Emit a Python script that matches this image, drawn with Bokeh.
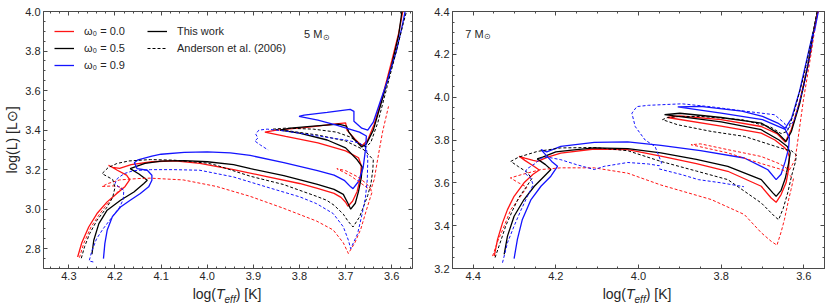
from bokeh.plotting import figure
from bokeh.models import (Range1d, SingleIntervalTicker, LinearAxis, PrintfTickFormatter,
                          Legend, LegendItem, Label, Div)
from bokeh.layouts import row, column
from bokeh.embed import file_html
from bokeh.resources import INLINE

FONT = "Liberation Sans"
AXC = "#4a4a4a"
TXT = "#262626"

# ---------------- 5 Msun tracks (logTeff, logL) ----------------
m5_w00_this = [(4.281,2.758),(4.272,2.83),(4.257,2.91),(4.239,2.978),(4.217,3.037),(4.196,3.079),(4.178,3.115),(4.168,3.15),(4.175,3.172),(4.195,3.197),(4.214,3.222),(4.205,3.212),(4.19,3.207),(4.165,3.225),(4.12,3.24),(4.07,3.245),(4.016,3.232),(3.943,3.20),(3.871,3.165),(3.80,3.13),(3.761,3.105),(3.725,3.08),(3.71,3.06),(3.70,3.035),(3.695,3.015),(3.685,3.04),(3.675,3.09),(3.668,3.16),(3.666,3.22),(3.672,3.26),(3.70,3.295),(3.76,3.335),(3.83,3.368),(3.875,3.39),(3.85,3.40),(3.78,3.415),(3.72,3.432),(3.70,3.437),(3.697,3.40),(3.68,3.355),(3.665,3.32),(3.652,3.35),(3.638,3.43),(3.62,3.57),(3.60,3.75),(3.585,3.89),(3.576,4.0)]
m5_w05_this = [(4.250,2.772),(4.246,2.843),(4.235,2.927),(4.217,2.995),(4.188,3.045),(4.159,3.087),(4.138,3.129),(4.130,3.146),(4.148,3.178),(4.167,3.205),(4.155,3.215),(4.135,3.232),(4.10,3.243),(4.05,3.246),(4.0,3.24),(3.943,3.225),(3.906,3.205),(3.834,3.17),(3.761,3.125),(3.725,3.10),(3.705,3.075),(3.695,3.03),(3.689,3.0),(3.679,3.03),(3.672,3.09),(3.666,3.16),(3.664,3.214),(3.675,3.25),(3.70,3.31),(3.74,3.35),(3.80,3.385),(3.842,3.40),(3.82,3.41),(3.77,3.42),(3.715,3.43),(3.698,3.42),(3.693,3.39),(3.68,3.35),(3.665,3.315),(3.655,3.33),(3.64,3.40),(3.62,3.56),(3.60,3.73),(3.585,3.88),(3.578,4.0)]
m5_w09_this = [(4.225,2.750),(4.222,2.826),(4.217,2.893),(4.206,2.961),(4.188,3.011),(4.167,3.045),(4.145,3.079),(4.127,3.113),(4.120,3.146),(4.120,3.172),(4.13,3.197),(4.152,3.205),(4.158,3.235),(4.15,3.25),(4.12,3.268),(4.10,3.278),(4.05,3.287),(4.0,3.29),(3.95,3.285),(3.907,3.272),(3.834,3.235),(3.761,3.195),(3.725,3.172),(3.703,3.146),(3.689,3.113),(3.684,3.104),(3.672,3.14),(3.662,3.21),(3.657,3.30),(3.655,3.37),(3.67,3.39),(3.72,3.425),(3.76,3.45),(3.801,3.47),(3.79,3.476),(3.74,3.49),(3.69,3.505),(3.682,3.495),(3.682,3.445),(3.665,3.41),(3.652,3.40),(3.64,3.44),(3.624,3.551),(3.609,3.653),(3.59,3.80),(3.578,3.92),(3.571,4.0)]
m5_w00_a06 = [(4.277,2.755),(4.268,2.826),(4.252,2.91),(4.232,2.98),(4.212,3.04),(4.195,3.085),(4.185,3.11),(4.20,3.118),(4.228,3.115),(4.215,3.13),(4.19,3.148),(4.15,3.155),(4.124,3.157),(4.052,3.148),(3.98,3.115),(3.907,3.065),(3.835,3.005),(3.763,2.94),(3.727,2.895),(3.705,2.83),(3.694,2.776),(3.68,2.83),(3.667,2.90),(3.655,2.995),(3.645,3.07),(3.642,3.09),(3.66,3.12),(3.69,3.17),(3.719,3.205),(3.70,3.195),(3.675,3.165),(3.655,3.13),(3.645,3.10),(3.638,3.15),(3.63,3.26),(3.62,3.39),(3.607,3.52)]
m5_w05_a06 = [(4.273,2.752),(4.266,2.81),(4.255,2.876),(4.239,2.944),(4.217,3.011),(4.205,3.06),(4.20,3.11),(4.205,3.15),(4.228,3.18),(4.215,3.21),(4.196,3.231),(4.17,3.244),(4.123,3.251),(4.072,3.248),(4.0,3.233),(3.98,3.222),(3.907,3.167),(3.835,3.125),(3.763,3.065),(3.741,3.045),(3.725,3.02),(3.705,2.975),(3.695,2.94),(3.684,2.91),(3.67,2.96),(3.66,3.02),(3.652,3.07),(3.645,3.13),(3.641,3.20),(3.64,3.25),(3.66,3.30),(3.70,3.345),(3.76,3.375),(3.82,3.395),(3.857,3.405),(3.83,3.41),(3.77,3.405),(3.72,3.39),(3.69,3.365),(3.668,3.33),(3.655,3.315),(3.645,3.34),(3.63,3.44),(3.61,3.62),(3.59,3.80),(3.575,3.94),(3.568,4.0)]
m5_w09_a06 = [(4.247,2.733),(4.256,2.738),(4.25,2.79),(4.24,2.85),(4.226,2.90),(4.206,2.961),(4.19,3.01),(4.182,3.05),(4.181,3.096),(4.192,3.113),(4.20,3.13),(4.195,3.155),(4.18,3.18),(4.16,3.195),(4.123,3.20),(4.072,3.20),(4.016,3.197),(3.943,3.163),(3.871,3.112),(3.799,3.062),(3.763,3.028),(3.727,2.978),(3.705,2.911),(3.694,2.843),(3.689,2.80),(3.674,2.876),(3.664,2.978),(3.657,3.06),(3.653,3.15),(3.652,3.25),(3.655,3.31),(3.67,3.335),(3.70,3.35),(3.76,3.37),(3.83,3.395),(3.87,3.405),(3.888,3.40),(3.895,3.38),(3.89,3.36),(3.897,3.345),(3.885,3.325),(3.875,3.31),(3.868,3.30)]

# ---------------- 7 Msun tracks (logTeff, logL) ----------------
m7_w00_this = [(4.349,3.258),(4.341,3.336),(4.329,3.413),(4.317,3.475),(4.301,3.537),(4.277,3.60),(4.255,3.64),(4.240,3.66),(4.255,3.68),(4.275,3.705),(4.289,3.724),(4.275,3.715),(4.255,3.705),(4.244,3.70),(4.22,3.72),(4.188,3.739),(4.107,3.758),(4.026,3.755),(3.946,3.725),(3.86,3.69),(3.784,3.654),(3.703,3.584),(3.679,3.529),(3.667,3.509),(3.655,3.545),(3.643,3.60),(3.637,3.66),(3.635,3.72),(3.64,3.75),(3.647,3.765),(3.67,3.80),(3.703,3.832),(3.80,3.865),(3.93,3.905),(3.90,3.912),(3.80,3.895),(3.703,3.863),(3.665,3.83),(3.645,3.79),(3.63,3.85),(3.61,3.98),(3.59,4.15),(3.575,4.32),(3.566,4.40)]
m7_w05_this = [(4.325,3.266),(4.317,3.351),(4.301,3.444),(4.277,3.522),(4.252,3.584),(4.228,3.631),(4.212,3.662),(4.225,3.685),(4.245,3.712),(4.232,3.72),(4.20,3.745),(4.15,3.755),(4.107,3.763),(4.026,3.76),(3.946,3.74),(3.86,3.71),(3.784,3.677),(3.703,3.615),(3.675,3.553),(3.667,3.537),(3.655,3.565),(3.645,3.62),(3.637,3.69),(3.633,3.74),(3.64,3.77),(3.66,3.80),(3.703,3.848),(3.80,3.885),(3.937,3.918),(3.90,3.925),(3.80,3.905),(3.703,3.879),(3.663,3.832),(3.643,3.793),(3.63,3.84),(3.61,3.97),(3.59,4.15),(3.575,4.32),(3.567,4.40)]
m7_w09_this = [(4.301,3.246),(4.293,3.336),(4.281,3.429),(4.26,3.522),(4.236,3.584),(4.212,3.631),(4.196,3.677),(4.21,3.70),(4.236,3.755),(4.222,3.745),(4.188,3.77),(4.107,3.789),(4.026,3.791),(3.946,3.775),(3.85,3.75),(3.744,3.716),(3.687,3.661),(3.667,3.615),(3.655,3.64),(3.645,3.70),(3.637,3.76),(3.635,3.81),(3.645,3.85),(3.70,3.895),(3.80,3.925),(3.905,3.955),(3.85,3.957),(3.75,3.935),(3.70,3.91),(3.663,3.879),(3.645,3.855),(3.63,3.90),(3.61,4.03),(3.59,4.20),(3.578,4.30),(3.574,4.31),(3.568,4.37),(3.565,4.40)]
m7_w00_a06 = [(4.353,3.258),(4.34,3.33),(4.325,3.398),(4.309,3.475),(4.285,3.537),(4.27,3.58),(4.29,3.60),(4.31,3.623),(4.28,3.64),(4.236,3.662),(4.188,3.67),(4.107,3.67),(4.026,3.645),(3.946,3.59),(3.824,3.522),(3.744,3.452),(3.703,3.367),(3.679,3.327),(3.665,3.309),(3.655,3.37),(3.647,3.428),(3.637,3.52),(3.631,3.568),(3.625,3.62),(3.65,3.66),(3.703,3.69),(3.784,3.74),(3.873,3.778),(3.85,3.782),(3.784,3.755),(3.703,3.723),(3.66,3.69),(3.635,3.66),(3.621,3.708),(3.601,3.987),(3.581,4.219),(3.569,4.381),(3.565,4.40)]
m7_w05_a06 = [(4.347,3.251),(4.333,3.33),(4.321,3.40),(4.305,3.47),(4.29,3.53),(4.27,3.585),(4.258,3.62),(4.27,3.65),(4.29,3.675),(4.309,3.70),(4.29,3.72),(4.244,3.747),(4.188,3.763),(4.107,3.765),(4.026,3.75),(3.946,3.70),(3.86,3.655),(3.784,3.615),(3.703,3.506),(3.671,3.444),(3.661,3.428),(3.65,3.48),(3.639,3.553),(3.63,3.63),(3.62,3.70),(3.618,3.73),(3.63,3.75),(3.647,3.757),(3.744,3.817),(3.824,3.84),(3.905,3.871),(3.942,3.895),(3.93,3.905),(3.90,3.91),(3.85,3.91),(3.75,3.895),(3.68,3.86),(3.655,3.83),(3.64,3.84),(3.625,3.92),(3.60,4.10),(3.58,4.28),(3.568,4.40)]
m7_w09_a06 = [(4.329,3.227),(4.317,3.32),(4.301,3.398),(4.285,3.47),(4.268,3.54),(4.255,3.59),(4.26,3.62),(4.275,3.645),(4.27,3.665),(4.25,3.69),(4.236,3.715),(4.22,3.72),(4.188,3.708),(4.15,3.685),(4.107,3.662),(4.083,3.677),(4.026,3.695),(3.976,3.688),(3.95,3.68),(3.944,3.692),(3.96,3.77),(3.984,3.80),(4.008,3.863),(4.016,3.925),(4.004,3.956),(3.976,3.962),(3.895,3.969),(3.824,3.955),(3.744,3.935),(3.671,3.918),(3.647,3.879),(3.639,3.848),(3.623,3.894),(3.60,4.05),(3.585,4.20),(3.572,4.34),(3.565,4.40),
              (None,None),(3.95,3.665),(3.895,3.638),(3.855,3.615),(3.80,3.60),(3.745,3.582)]

omega_labels = ["ω₀ = 0.0", "ω₀ = 0.5", "ω₀ = 0.9"]
omega_colors = ["#ff1414", "#000000", "#1414ff"]
source_labels = ["This work", "Anderson et al. (2006)"]

XLABEL_HTML = "log(<i>T</i><sub style='font-size:10px'><i>eff</i></sub>) [K]"
YLABEL = "log(L) [L⊙]"


def xy(track):
    xs = [float("nan") if a is None else a for a, b in track]
    ys = [float("nan") if b is None else b for a, b in track]
    return xs, ys


def style_axis(ax, labels):
    ax.axis_line_color = None
    ax.major_tick_in = 4
    ax.major_tick_out = 0
    ax.minor_tick_in = 2
    ax.minor_tick_out = 0
    ax.major_tick_line_color = AXC
    ax.minor_tick_line_color = AXC
    if labels:
        ax.major_label_text_font = FONT
        ax.major_label_text_font_size = "11px"
        ax.major_label_text_color = TXT
        ax.major_label_standoff = 3
    else:
        ax.major_label_text_color = None
        ax.major_label_standoff = 0


def make_fig(width, xr, yr, xint, xminor, yint, yminor, bl, br):
    p = figure(width=width, height=286, x_range=Range1d(*xr), y_range=Range1d(*yr),
               output_backend="svg", toolbar_location=None,
               min_border_left=bl, min_border_right=br, min_border_top=11, min_border_bottom=18)
    p.xgrid.visible = False
    p.ygrid.visible = False
    p.outline_line_color = AXC
    p.outline_line_width = 1
    p.background_fill_color = "white"
    p.border_fill_color = "white"
    p.xaxis.ticker = SingleIntervalTicker(interval=xint, num_minor_ticks=xminor)
    p.yaxis.ticker = SingleIntervalTicker(interval=yint, num_minor_ticks=yminor)
    p.xaxis.formatter = PrintfTickFormatter(format="%.1f")
    p.yaxis.formatter = PrintfTickFormatter(format="%.1f")
    style_axis(p.xaxis[0], True)
    style_axis(p.yaxis[0], True)
    top = LinearAxis(ticker=SingleIntervalTicker(interval=xint, num_minor_ticks=xminor))
    right = LinearAxis(ticker=SingleIntervalTicker(interval=yint, num_minor_ticks=yminor))
    style_axis(top, False)
    style_axis(right, False)
    p.add_layout(top, "above")
    p.add_layout(right, "right")
    return p


def draw_tracks(p, this_tracks, a06_tracks):
    solid, dashed = [], []
    for tr, c in zip(this_tracks, omega_colors):
        xs, ys = xy(tr)
        solid.append(p.line(xs, ys, line_color=c, line_width=1.3))
    for tr, c in zip(a06_tracks, omega_colors):
        xs, ys = xy(tr)
        dashed.append(p.line(xs, ys, line_color=c, line_width=1.0, line_dash="3 2"))
    return solid, dashed


def mass_label(p, x, y, num):
    p.add_layout(Label(x=x, y=y, text=f"{num} M", text_font=FONT, text_font_size="11px",
                       text_color=TXT, text_baseline="middle"))
    p.add_layout(Label(x=x, y=y, x_offset=18.5, y_offset=-3, text="⊙", text_font=FONT,
                       text_font_size="7.5px", text_color=TXT, text_baseline="middle"))


def xlabel_div(width, shift):
    html = ("<div style='display:block; width:%dpx; text-align:center; position:relative; "
            "left:%dpx; font-family:\"Liberation Sans\"; font-size:14px; line-height:16px; "
            "color:%s; white-space:nowrap;'>%s</div>") % (width, shift, TXT, XLABEL_HTML)
    return Div(text=html, width=width, height=21, margin=0,
               styles={"width": "%dpx" % width, "text-align": "center"})


# ---------------- left panel ----------------
xr5 = (4.355, 3.555)
yr5 = (2.7, 4.0)
p1 = make_fig(420, xr5, yr5, 0.1, 5, 0.2, 4, 43, 8)
s1, d1 = draw_tracks(p1, [m5_w00_this, m5_w05_this, m5_w09_this],
                     [m5_w00_a06, m5_w05_a06, m5_w09_a06])
p1.yaxis[0].axis_label = YLABEL
p1.yaxis[0].axis_label_text_font = FONT
p1.yaxis[0].axis_label_text_font_style = "normal"
p1.yaxis[0].axis_label_text_font_size = "14px"
p1.yaxis[0].axis_label_text_color = TXT
p1.yaxis[0].axis_label_standoff = 2
mass_label(p1, 3.79, 3.885, 5)

leg_kw = dict(border_line_color=None, background_fill_alpha=0, label_text_font=FONT,
              label_text_font_size="11px", label_text_color=TXT, glyph_width=20,
              glyph_height=14, label_height=14, spacing=3, padding=0, margin=0,
              label_standoff=10)
leg1 = Legend(items=[LegendItem(label=l, renderers=[r]) for l, r in zip(omega_labels, s1)],
              location=(11, 196), **leg_kw)
leg2 = Legend(items=[LegendItem(label=source_labels[0], renderers=[s1[1]]),
                     LegendItem(label=source_labels[1], renderers=[d1[1]])],
              location=(104, 213), **leg_kw)
p1.add_layout(leg1)
p1.add_layout(leg2)

# ---------------- right panel ----------------
xr7 = (4.45, 3.55)
yr7 = (3.2, 4.4)
p2 = make_fig(410, xr7, yr7, 0.2, 4, 0.2, 4, 32, 6)
draw_tracks(p2, [m7_w00_this, m7_w05_this, m7_w09_this],
            [m7_w00_a06, m7_w05_a06, m7_w09_a06])
mass_label(p2, 4.419, 4.295, 7)

layout = row(column(p1, xlabel_div(420, 17)), column(p2, xlabel_div(410, 12)))
open("out.html", "w").write(file_html(layout, INLINE))
